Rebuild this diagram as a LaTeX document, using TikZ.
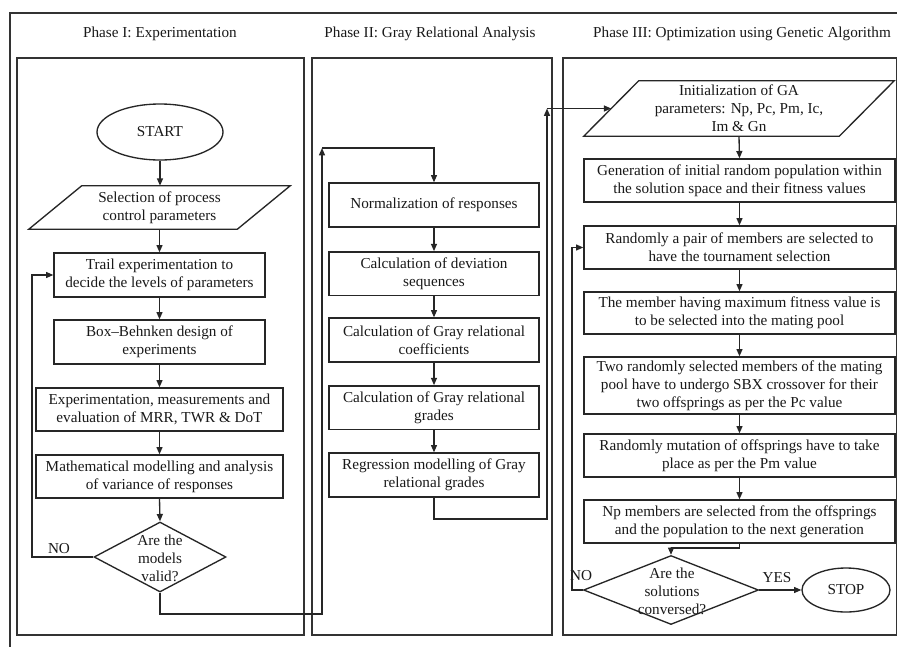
\documentclass[tikz,border=0pt]{standalone}
\usepackage{fontspec}
\setmainfont{Liberation Serif}
\usetikzlibrary{arrows.meta,shapes.geometric,calc}
\tikzset{
  ln/.style={draw=black!85, line width=1pt},
  frame/.style={draw=black!80, line width=1.1pt},
  box/.style={ln, rectangle, inner sep=0pt, align=center, text=black!90},
  para/.style={rectangle, inner sep=0pt, align=center, text=black!90},
  dia/.style={ln, diamond, inner sep=0pt},
  oval/.style={ln, ellipse, inner sep=0pt, text=black!90},
  txt/.style={align=center, inner sep=0pt, text=black!90},
  arr/.style={ln, -{Triangle[length=5.5pt,width=4.5pt]}},
}
\begin{document}
\begin{tikzpicture}[x=0.75pt, y=-0.75pt, font=\fontsize{11.4}{13.5}\selectfont]
\fill[white] (0,0) rectangle (897,647);
\useasboundingbox (0,0) rectangle (897,647);
% frames
\draw[frame] (897,13) -- (10,13) -- (10,647);
\draw[frame] (17,58) rectangle (304,635);
\draw[frame] (312,58) rectangle (552,635);
\draw[frame] (563,58) rectangle (896.3,635);
% titles
\node[txt] (t1) at (160,34) {Phase I: Experimentation};
\node[txt] (t2) at (430,34) {Phase II: Gray Relational Analysis};
\node[txt] (t3) at (742,34) {Phase III: Optimization using Genetic Algorithm};

% Phase I
\node[oval, minimum width=94.5pt, minimum height=42pt] (start) at (160,132) {START};
\node[para, minimum width=195.75pt, minimum height=32.25pt] (sel) at (159.5,207.5) {Selection of process\\control parameters};
\draw[ln] ([xshift=39.75pt]sel.north west) -- (sel.north east) -- ([xshift=-39.75pt]sel.south east) -- (sel.south west) -- cycle;
\node[box, minimum width=158.25pt, minimum height=33pt] (trail) at (159.5,275) {Trail experimentation to\\decide the levels of parameters};
\node[box, minimum width=158.25pt, minimum height=33pt] (bbd) at (159.5,342) {Box–Behnken design of\\experiments};
\node[box, minimum width=185.25pt, minimum height=32.25pt] (exp) at (159.5,409.5) {Experimentation, measurements and\\evaluation of MRR, TWR \& DoT};
\node[box, minimum width=185.25pt, minimum height=32.25pt] (math) at (159.5,476.5) {Mathematical modelling and analysis\\of variance of responses};
\node[dia, minimum width=99pt, minimum height=52.5pt] (dia1) at (160,557) {};
\node[txt] (dia1t) at (160,558) {Are the\\models\\valid?};
\node[txt] (no1) at (59,549) {NO};

\draw[arr] (start.south) -- (start.south |- sel.north);
\draw[arr] (sel.south) -- (trail.north);
\draw[arr] (trail.south) -- (bbd.north);
\draw[arr] (bbd.south) -- (exp.north);
\draw[arr] (exp.south) -- (math.north);
\draw[arr] (math.south) -- (dia1.north);
\coordinate (n1) at (32,557);
\draw[arr] (dia1.west) -- (n1) |- (trail.west);

% Phase II
\node[box, minimum width=157.5pt, minimum height=33pt] (norm) at (434,205) {Normalization of responses};
\node[box, minimum width=157.5pt, minimum height=32.5pt] (dev) at (434,273.5) {Calculation of deviation\\sequences};
\node[box, minimum width=157.5pt, minimum height=33pt] (coef) at (434,340) {Calculation of Gray relational\\coefficients};
\node[box, minimum width=157.5pt, minimum height=32.5pt] (grad) at (434,407.5) {Calculation of Gray relational\\grades};
\node[box, minimum width=157.5pt, minimum height=33pt] (reg) at (434,475) {Regression modelling of Gray\\relational grades};
\draw[arr] (norm.south) -- (dev.north);
\draw[arr] (dev.south) -- (coef.north);
\draw[arr] (coef.south) -- (grad.north);
\draw[arr] (grad.south) -- (reg.north);

\coordinate (c1bot) at (322,614);
\coordinate (c1top) at (322,148);
\draw[arr] (dia1.south) |- (c1bot) -- (c1top);
\draw[arr] (c1top) -| (norm.north);

% Phase III
\node[para, minimum width=232.5pt, minimum height=41.25pt] (init) at (739,108.5) {Initialization of GA\\parameters: Np, Pc, Pm, Ic,\\Im \& Gn};
\draw[ln] ([xshift=41.25pt]init.north west) -- (init.north east) -- ([xshift=-41.25pt]init.south east) -- (init.south west) -- cycle;
\node[box, minimum width=233.25pt, minimum height=32.25pt] (gen) at (739.5,180.5) {Generation of initial random population within\\the solution space and their fitness values};
\node[box, minimum width=233.25pt, minimum height=32.25pt] (pair) at (739.5,247.5) {Randomly a pair of members are selected to\\have the tournament selection};
\node[box, minimum width=233.25pt, minimum height=31.5pt] (best) at (739.5,313) {The member having maximum fitness value is\\to be selected into the mating pool};
\node[box, minimum width=233.25pt, minimum height=42.75pt] (sbx) at (739.5,385.5) {Two randomly selected members of the mating\\pool have to undergo SBX crossover for their\\two offsprings as per the Pc value};
\node[box, minimum width=233.25pt, minimum height=32.25pt] (mut) at (739.5,455.5) {Randomly mutation of offsprings have to take\\place as per the Pm value};
\node[box, minimum width=233.25pt, minimum height=32.25pt] (np) at (739.5,521.5) {Np members are selected from the offsprings\\and the population to the next generation};
\node[dia, minimum width=131.25pt, minimum height=51.75pt] (dia3) at (671,590) {};
\node[txt] (dia3t) at (672,591) {Are the\\solutions\\conversed?};
\node[oval, minimum width=66pt, minimum height=33pt] (stop) at (846,590) {STOP};
\node[txt] (no3) at (581,576) {NO};
\node[txt] (yes3) at (777,578) {YES};

\coordinate (c2bot) at (547,519);
\coordinate (c2top) at (547,108.5);
\draw[arr] (reg.south) |- (c2bot) -- (c2top);
\draw[arr] (c2top) -- ([xshift=20.625pt]init.west);

\draw[arr] (init.south) -- (gen.north);
\draw[arr] (gen.south) -- (pair.north);
\draw[arr] (pair.south) -- (best.north);
\draw[arr] (best.south) -- (sbx.north);
\draw[arr] (sbx.south) -- (mut.north);
\draw[arr] (mut.south) -- (np.north);
\coordinate (c3) at (671,548);
\draw[arr] (np.south) |- (c3) -- (dia3.north);
\draw[arr] (dia3.east) -- (stop.west);
\coordinate (n3) at (572,590);
\draw[arr] (dia3.west) -- (n3) |- (pair.west);
\end{tikzpicture}
\end{document}
